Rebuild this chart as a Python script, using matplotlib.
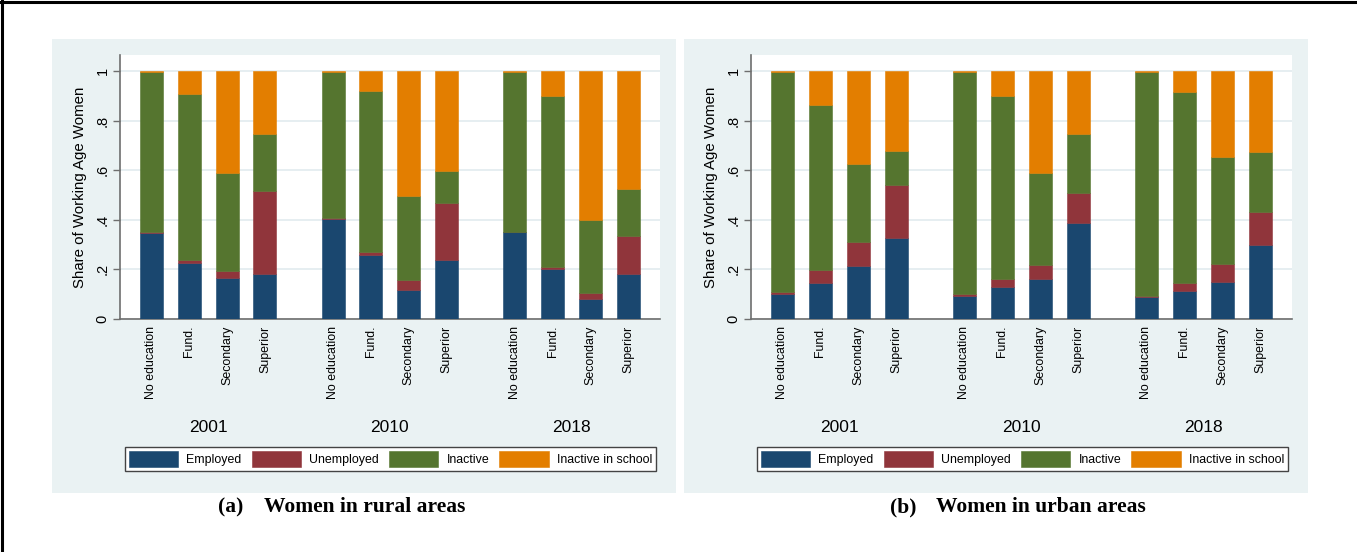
import numpy as np
import matplotlib
matplotlib.use("Agg")
import matplotlib.pyplot as plt
from matplotlib.patches import Rectangle
from matplotlib.transforms import blended_transform_factory

plt.rcParams['font.family'] = ['Liberation Sans', 'DejaVu Sans']

# --- data (shares) ---
years = ['2001', '2010', '2018']
educ = ['No education', 'Fund.', 'Secondary', 'Superior']
series = ['Employed', 'Unemployed', 'Inactive', 'Inactive in school']

# order: 2001 (4 levels), 2010 (4 levels), 2018 (4 levels)
rural_employed = [0.346, 0.226, 0.164, 0.181, 0.404, 0.259, 0.117, 0.239, 0.349, 0.201, 0.082, 0.180]
rural_unemployed = [0.004, 0.013, 0.028, 0.334, 0.004, 0.012, 0.041, 0.227, 0.003, 0.008, 0.024, 0.156]
rural_inactive = [0.645, 0.667, 0.397, 0.231, 0.587, 0.648, 0.340, 0.133, 0.643, 0.690, 0.293, 0.190]
rural_school = [0.005, 0.094, 0.411, 0.254, 0.005, 0.081, 0.502, 0.401, 0.005, 0.101, 0.601, 0.474]

urban_employed = [0.101, 0.146, 0.212, 0.328, 0.094, 0.128, 0.162, 0.388, 0.087, 0.111, 0.150, 0.297]
urban_unemployed = [0.009, 0.053, 0.097, 0.214, 0.008, 0.032, 0.057, 0.121, 0.007, 0.033, 0.073, 0.135]
urban_inactive = [0.885, 0.665, 0.317, 0.137, 0.893, 0.739, 0.370, 0.236, 0.901, 0.771, 0.431, 0.243]
urban_school = [0.005, 0.136, 0.374, 0.321, 0.005, 0.101, 0.411, 0.255, 0.005, 0.085, 0.346, 0.325]

colors = ['#1a476f', '#90353b', '#55752f', '#e37e00']
BG = '#eaf2f3'
GRID = '#e4edf0'
AXC = '#6e6e6e'

W, H = 1357, 552
fig = plt.figure(figsize=(W / 100, H / 100), dpi=100)


def fx(px):
    return px / W


def fy(py):
    return 1 - py / H


# outer frame (top and left only, the rest is cropped)
fig.add_artist(plt.Line2D([0, 1], [fy(1.5), fy(1.5)], color='black', lw=2.2, transform=fig.transFigure))
fig.add_artist(plt.Line2D([fx(1.5), fx(1.5)], [0, 1], color='black', lw=2.2, transform=fig.transFigure))

GROUP_STEP = 4.8
x = np.array([g * GROUP_STEP + c for g in range(3) for c in range(4)])


def panel(bg, axbox, data, caption_x, tag, caption):
    # grey graph region
    fig.patches.append(Rectangle((fx(bg[0]), fy(bg[3])), fx(bg[2] - bg[0]), (bg[3] - bg[1]) / H,
                                 transform=fig.transFigure, facecolor=BG, edgecolor='none', zorder=-5))
    l, t, r, b = axbox
    ax = fig.add_axes([fx(l), fy(b), fx(r - l), (b - t) / H])
    ax.set_zorder(2)
    ax.set_facecolor('white')

    bottom = np.zeros(len(x))
    for vals, col, lab in zip(data, colors, series):
        vals = np.array(vals)
        ax.bar(x, vals, width=0.607, bottom=bottom, color=col, edgecolor=col,
               linewidth=0.4, label=lab, zorder=3)
        bottom += vals

    ax.set_ylim(0, 1.065)
    ax.set_xlim(x[0] - 0.83, x[-1] + 0.84)
    ax.set_yticks([0, 0.2, 0.4, 0.6, 0.8, 1])
    ax.set_yticklabels(['0', '.2', '.4', '.6', '.8', '1'], rotation=90, va='center', fontsize=10.5)
    ax.set_xticks(x)
    ax.set_xticklabels(educ * 3, rotation=90, fontsize=8.9)
    ax.tick_params(axis='x', length=0, pad=5)
    ax.tick_params(axis='y', length=5, width=1, color=AXC, pad=2.5)
    ax.grid(axis='y', color=GRID, lw=1.3, zorder=0)
    ax.set_axisbelow(True)
    for s in ['top', 'right']:
        ax.spines[s].set_visible(False)
    for s in ['left', 'bottom']:
        ax.spines[s].set_color(AXC)
        ax.spines[s].set_linewidth(1.2)
    ax.set_ylabel('Share of Working Age Women', fontsize=10.8)
    ax.yaxis.set_label_coords(-0.061, 0.5)

    # year labels under each group
    tr = blended_transform_factory(ax.transData, fig.transFigure)
    for g, yr in enumerate(years):
        ax.text(g * GROUP_STEP + 1.5, fy(427), yr, transform=tr, ha='center', va='center', fontsize=12.5)

    # legend box
    lx0, ly0, lx1, ly1 = bg[0] + 73, 441.7, bg[0] + 604, 470.7
    leg = ax.legend(loc='lower left', bbox_to_anchor=(fx(lx0), fy(ly1), fx(lx1 - lx0), (ly1 - ly0) / H),
                    bbox_transform=fig.transFigure, mode='expand', ncol=4, fontsize=8.9,
                    handlelength=4.0, handleheight=1.6, handletextpad=0.65, columnspacing=1.0,
                    borderpad=0.3, borderaxespad=0, fancybox=False, framealpha=1)
    leg.get_frame().set_edgecolor('#444444')
    leg.get_frame().set_linewidth(1.0)

    # caption
    fig.text(fx(caption_x), fy(507), tag, fontsize=15.5, fontweight='bold',
             family='Liberation Serif', ha='left', va='center')
    fig.text(fx(caption_x + 46), fy(507), caption, fontsize=15.5, fontweight='bold',
             family='Liberation Serif', ha='left', va='center')
    return ax


panel((52, 39, 676, 493), (120, 55, 660, 319),
      [rural_employed, rural_unemployed, rural_inactive, rural_school], 218, '(a)', 'Women in rural areas')
panel((684, 39, 1308, 493), (751, 55, 1292, 319),
      [urban_employed, urban_unemployed, urban_inactive, urban_school], 890, '(b)', 'Women in urban areas')

fig.savefig('out.png', dpi=100)
